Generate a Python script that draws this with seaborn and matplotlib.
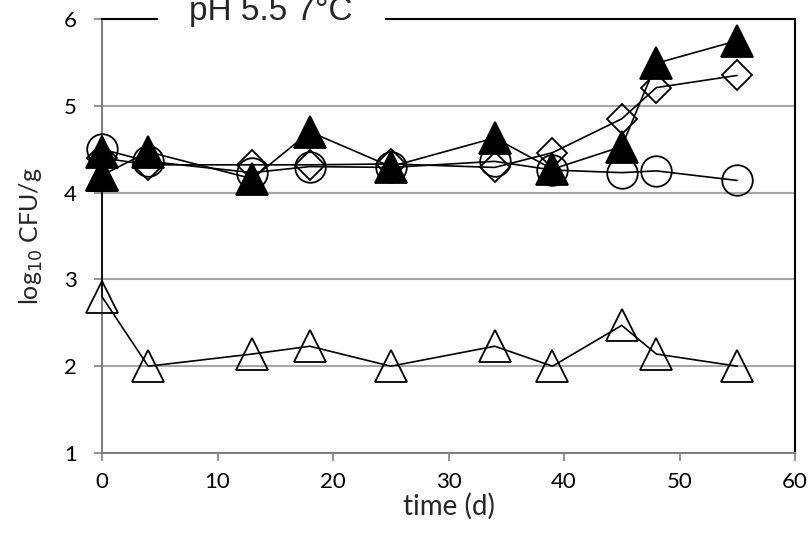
import matplotlib
matplotlib.use("Agg")
import matplotlib.pyplot as plt
import seaborn as sns
import pandas as pd
from matplotlib.patches import Rectangle

# ---- data ----
days = [0, 4, 13, 18, 25, 34, 39, 45, 48, 55]
circle_vals = [4.50, 4.36, 4.23, 4.30, 4.29, 4.36, 4.26, 4.23, 4.25, 4.14]
diamond_vals = [4.40, 4.32, 4.32, 4.32, 4.33, 4.29, 4.46, 4.85, 5.21, 5.35]
days_tri = [0, 0, 4, 13, 18, 25, 34, 39, 45, 48, 55]
open_tri_vals = [4.20, 2.80, 2.00, 2.14, 2.23, 2.00, 2.23, 2.00, 2.47, 2.14, 2.00]
filled_tri_vals = [4.47, 4.20, 4.47, 4.16, 4.70, 4.30, 4.63, 4.27, 4.53, 5.49, 5.75]
x_ticks = [0, 10, 20, 30, 40, 50, 60]
y_ticks = [1, 2, 3, 4, 5, 6]
title = "pH 5.5 7°C"

sns.set_style("white")
plt.rcParams['font.family'] = ['Lato', 'DejaVu Sans']

fig = plt.figure(figsize=(8.09, 5.33), dpi=100)
ax = fig.add_axes([102/809, 1-453/533, (795-102)/809, (453-19)/533])

series = [
    (days_tri, open_tri_vals, '^', 'none', 23),
    (days, circle_vals, 'o', 'none', 22),
    (days, diamond_vals, 'D', 'none', 15),
    (days_tri, filled_tri_vals, '^', 'black', 23),
]
for i, (xd, yd, mk, fc, ms) in enumerate(series):
    df = pd.DataFrame({'x': xd, 'y': yd})
    sns.lineplot(data=df, x='x', y='y', ax=ax, estimator=None, sort=False,
                 color='black', linewidth=1.2, marker=mk, markersize=ms,
                 markerfacecolor=fc, markeredgecolor='black', markeredgewidth=1.3,
                 zorder=3 + i, clip_on=False)

ax.set_xlim(0, 60)
ax.set_ylim(1, 6)
ax.set_xticks(x_ticks)
ax.set_yticks(y_ticks)
ax.yaxis.grid(True, color='#a6a6a6', linewidth=1.5)
ax.set_axisbelow(True)
for s in ['left', 'bottom']:
    ax.spines[s].set_color('#808080')
    ax.spines[s].set_linewidth(1.5)
for s in ['top', 'right']:
    ax.spines[s].set_color('black')
    ax.spines[s].set_linewidth(1.5)
ax.tick_params(axis='both', direction='out', length=6, width=1.2, color='#808080',
               labelsize=16, labelcolor='black', bottom=True, left=True)
ax.tick_params(axis='x', pad=8)
ax.tick_params(axis='y', pad=12)
ax.set_xlabel('time (d)', fontsize=20, labelpad=0)
ax.set_ylabel('log$_{10}$ CFU/g', fontsize=18, labelpad=14)

fig.patches.append(Rectangle((158/809, 1-25/533), (385-158)/809, 25/533,
                             transform=fig.transFigure, facecolor='white',
                             edgecolor='none', zorder=10))
fig.text(271/809, 1-20/533, title, ha='center', va='baseline', fontsize=24,
         family=['Liberation Sans', 'DejaVu Sans'], zorder=11)

fig.savefig('out.png', dpi=100)
